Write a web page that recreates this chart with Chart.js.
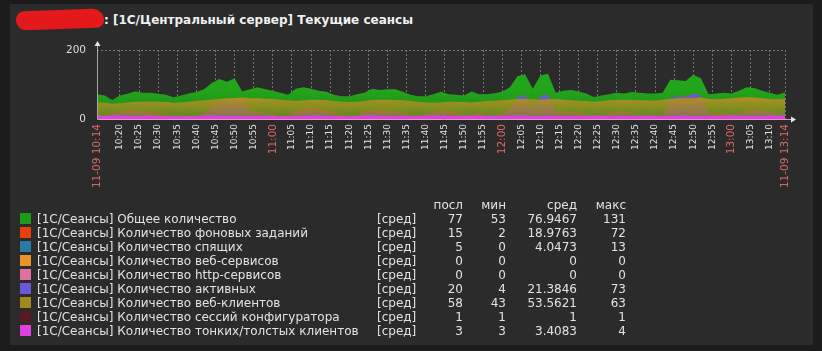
<!DOCTYPE html>
<html>
<head>
<meta charset="utf-8">
<script src="https://cdn.jsdelivr.net/npm/chart.js@4.4.0/dist/chart.umd.min.js"></script>
<style>
  body { margin: 0; width: 822px; height: 351px; overflow: hidden; background: #1c1c1c; font-family: "DejaVu Sans", sans-serif; }
  #panel { position: absolute; left: 10px; top: 4px; width: 803px; height: 341px; background: #2b2b2b; }
  #chart { position: absolute; left: 0; top: 0; }
  #blob { position: absolute; left: 16px; top: 10px; width: 88px; height: 19px; background: #e3191c; border-radius: 10px 14px 9px 12px; transform: rotate(-2deg); }
  #title { position: absolute; left: 104px; top: 13px; font-weight: bold; font-size: 12px; color: #f0f0f0; white-space: nowrap; }
  .lg { position: absolute; font-size: 12px; color: #e2e2e2; white-space: nowrap; line-height: 14px; }
  .sq { position: absolute; width: 11px; height: 11px; }
  .num { text-align: right; }
</style>
</head>
<body>
<div id="panel"></div>
<div id="blob"></div>
<div id="title">: [1С/Центральный сервер] Текущие сеансы</div>
<canvas id="chart" width="822" height="351"></canvas>
<div id="legend"></div>
<script>
// minutes since 10:14 (11-09)
const sampleMinutes = [0,2,4,6,8,10,12,14,16,18,20,22,24,26,28,30,32,34,36,38,40,42,44,46,48,50,52,54,56,58,60,62,64,66,68,70,72,74,76,78,80,82,84,86,88,90,92,94,96,98,100,102,104,106,108,110,112,114,116,118,120,122,124,126,128,130,132,134,136,138,140,142,144,146,148,150,152,154,156,158,160,162,164,166,168,170,172,174,176,178,180];

const totalSessions = [72,68,55,68,73,80,76,76,73,70,63,
  68,74,78,86,104,116,108,118,80,86,
  92,86,82,76,70,88,92,88,82,79,
  70,66,66,72,76,88,84,86,86,79,
  70,66,66,72,79,72,70,68,80,72,
  72,75,79,92,124,130,88,126,131,76,
  82,84,80,74,64,68,72,76,74,78,
  76,74,74,76,114,112,110,128,118,72,
  74,76,74,82,92,90,82,76,70,77];
const backgroundJobs = [14,12,16,22,26,26,24,22,16,12,10,
  10,8,10,14,40,52,58,60,62,24,
  22,16,12,10,10,26,30,32,30,28,
  20,12,10,12,24,26,26,24,22,20,
  12,10,14,22,26,24,18,14,12,22,
  12,14,16,30,56,60,30,58,64,22,
  22,20,20,16,12,10,18,22,22,18,
  14,12,4,12,56,62,66,72,60,16,
  18,20,14,16,24,28,26,20,16,15];
const sleepingSessions = [4,3,5,6,5,4,4,3,3,4,3,
  3,2,3,4,8,10,12,13,10,5,
  4,4,3,3,2,5,6,6,5,4,
  4,3,2,3,4,5,5,4,4,4,
  3,2,3,4,5,4,4,3,3,4,
  3,3,3,4,6,5,4,5,6,4,
  4,4,4,3,2,2,3,4,4,4,
  3,3,2,2,5,6,6,7,6,4,
  4,4,3,3,4,5,5,4,4,5];
const webServices = [0,0,0,0,0,0,0,0,0,0,0, 0,0,0,0,0,0,0,0,0,0, 0,0,0,0,0,0,0,0,0,0, 0,0,0,0,0,0,0,0,0,0,
  0,0,0,0,0,0,0,0,0,0, 0,0,0,0,0,0,0,0,0,0, 0,0,0,0,0,0,0,0,0,0, 0,0,0,0,0,0,0,0,0,0, 0,0,0,0,0,0,0,0,0,0];
const httpServices = [0,0,0,0,0,0,0,0,0,0,0, 0,0,0,0,0,0,0,0,0,0, 0,0,0,0,0,0,0,0,0,0, 0,0,0,0,0,0,0,0,0,0,
  0,0,0,0,0,0,0,0,0,0, 0,0,0,0,0,0,0,0,0,0, 0,0,0,0,0,0,0,0,0,0, 0,0,0,0,0,0,0,0,0,0, 0,0,0,0,0,0,0,0,0,0];
const activeSessions = [12,10,14,18,20,20,18,16,12,10,8,
  8,6,8,12,34,48,52,54,56,20,
  18,14,10,8,8,20,24,26,24,22,
  16,10,8,10,20,22,22,20,18,16,
  10,8,12,18,20,18,14,12,10,18,
  10,12,14,26,64,70,28,66,72,20,
  18,16,16,12,10,8,14,18,18,14,
  12,10,8,10,62,66,64,73,68,14,
  14,16,12,14,20,24,22,18,16,20];
const webClients = [48,47,44,46,48,50,50,51,50,49,47,
  48,50,52,54,56,58,60,61,62,60,
  60,59,58,56,54,52,54,56,56,55,
  52,50,49,50,52,55,56,56,55,54,
  52,50,48,47,48,50,50,49,48,50,
  52,53,54,56,58,58,57,56,57,58,
  56,54,53,52,50,52,54,55,56,55,
  54,54,53,56,58,60,60,60,62,58,
  57,58,60,62,63,62,60,58,57,58];
const configSessions = [1,1,1,1,1,1,1,1,1,1,1, 1,1,1,1,1,1,1,1,1,1, 1,1,1,1,1,1,1,1,1,1, 1,1,1,1,1,1,1,1,1,1,
  1,1,1,1,1,1,1,1,1,1, 1,1,1,1,1,1,1,1,1,1, 1,1,1,1,1,1,1,1,1,1, 1,1,1,1,1,1,1,1,1,1, 1,1,1,1,1,1,1,1,1,1];
const thinClients = [3,3,4,4,3,3,3,4,3,3,3, 3,3,3,4,4,4,3,3,3,3, 3,3,4,3,3,3,3,4,4,3, 3,3,3,3,4,4,3,3,3,3,
  3,3,4,4,3,3,3,3,4,3, 3,3,3,4,4,4,3,3,4,3, 3,3,3,3,4,4,3,3,3,3, 3,4,4,3,3,4,4,3,3,3, 3,3,4,4,3,3,3,4,3,3];

// x tick positions (minutes since 10:14) and their labels
const tickMinutes = [0,6,11,16,21,26,31,36,41,46,51,56,61,66,71,76,81,86,91,96,101,106,111,116,121,126,131,136,141,146,151,156,161,166,171,176,180];
const tickLabels = ['11-09 10:14','10:20','10:25','10:30','10:35','10:40','10:45','10:50','10:55','11:00','11:05','11:10','11:15','11:20','11:25','11:30','11:35','11:40','11:45','11:50','11:55','12:00','12:05','12:10','12:15','12:20','12:25','12:30','12:35','12:40','12:45','12:50','12:55','13:00','13:05','13:10','11-09 13:14'];
const redLabels = ['11-09 10:14','11:00','12:00','13:00','11-09 13:14'];
const yTicks = [0, 200];

// legend table
const seriesNames = ['[1С/Сеансы] Общее количество','[1С/Сеансы] Количество фоновых заданий','[1С/Сеансы] Количество спящих','[1С/Сеансы] Количество веб-сервисов','[1С/Сеансы] Количество http-сервисов','[1С/Сеансы] Количество активных','[1С/Сеансы] Количество веб-клиентов','[1С/Сеансы] Количество сессий конфигуратора','[1С/Сеансы] Количество тонких/толстых клиентов'];
const statLast = ['77','15','5','0','0','20','58','1','3'];
const statMin = ['53','2','0','0','0','4','43','1','3'];
const statAvg = ['76.9467','18.9763','4.0473','0','0','21.3846','53.5621','1','3.4083'];
const statMax = ['131','72','13','0','0','73','63','1','4'];
const statHeaders = ['посл','мин','сред','макс'];

const colors = ['#1a9c1a','#e8400f','#2a7aa8','#e8942a','#e070a0','#6a5ad8','#a08a20','#5a1a24','#e040e0'];
const seriesData = [totalSessions, backgroundJobs, sleepingSessions, webServices, httpServices, activeSessions, webClients, configSessions, thinClients];

function rgba(hex, a) {
  const n = parseInt(hex.slice(1), 16);
  return 'rgba(' + (n >> 16) + ',' + ((n >> 8) & 255) + ',' + (n & 255) + ',' + a + ')';
}

// gradient fill, strongest near topVal, fading to the baseline
function gradientFill(hex, topVal, aTop, aBottom) {
  return function(context) {
    const chart = context.chart;
    const area = chart.chartArea;
    if (!area) return rgba(hex, aTop);
    const y0 = chart.scales.y.getPixelForValue(topVal);
    const g = chart.ctx.createLinearGradient(0, y0, 0, area.bottom);
    g.addColorStop(0, rgba(hex, aTop));
    g.addColorStop(1, rgba(hex, aBottom));
    return g;
  };
}

const fills = [
  gradientFill('#22a51a', 80, 1, 0.7),
  gradientFill(colors[1], 65, 0.85, 0.35),
  gradientFill(colors[2], 12, 0.7, 0.3),
  gradientFill(colors[3], 10, 0.7, 0.3),
  gradientFill(colors[4], 10, 0.7, 0.3),
  gradientFill(colors[5], 70, 0.9, 0.4),
  gradientFill('#ab8e22', 60, 1, 0.35),
  gradientFill(colors[7], 5, 0.8, 0.5),
  gradientFill(colors[8], 3, 1, 1)
];

const datasets = seriesData.map((vals, i) => ({
  label: seriesNames[i],
  data: vals.map((v, k) => ({ x: sampleMinutes[k], y: v })),
  borderColor: i === 8 ? colors[8] : (i === 4 ? rgba(colors[4], 0.8) : 'rgba(0,0,0,0)'),
  borderWidth: i === 8 ? 4 : (i === 4 ? 1 : 0),
  backgroundColor: fills[i],
  fill: 'origin',
  pointRadius: 0,
  tension: 0,
  order: 9 - i
}));

const axisArrows = {
  id: 'axisArrows',
  afterDraw(chart) {
    const ctx = chart.ctx, a = chart.chartArea;
    ctx.save();
    ctx.strokeStyle = '#a8a8a8';
    ctx.lineWidth = 1;
    ctx.beginPath();
    ctx.moveTo(a.left + 0.5, a.top - 5);
    ctx.lineTo(a.left + 0.5, a.bottom + 0.5);
    ctx.stroke();
    ctx.strokeStyle = '#d8a0b8';
    ctx.beginPath();
    ctx.moveTo(a.left + 0.5, a.bottom + 0.5);
    ctx.lineTo(a.right + 6, a.bottom + 0.5);
    ctx.stroke();
    ctx.fillStyle = '#e8e8e8';
    ctx.beginPath();
    ctx.moveTo(a.left + 0.5, a.top - 9);
    ctx.lineTo(a.left - 2.5, a.top - 4);
    ctx.lineTo(a.left + 3.5, a.top - 4);
    ctx.fill();
    ctx.beginPath();
    ctx.moveTo(a.right + 11, a.bottom + 0.5);
    ctx.lineTo(a.right + 6, a.bottom - 2.5);
    ctx.lineTo(a.right + 6, a.bottom + 3.5);
    ctx.fill();
    ctx.restore();
  }
};

new Chart(document.getElementById('chart'), {
  type: 'line',
  data: { datasets: datasets },
  options: {
    responsive: false,
    animation: false,
    layout: { padding: { top: 50, right: 37, left: 0, bottom: 0 } },
    plugins: { legend: { display: false }, tooltip: { enabled: false } },
    scales: {
      x: {
        type: 'linear',
        min: 0,
        max: 180,
        afterFit: s => { s.height = 232; },
        afterBuildTicks: s => { s.ticks = tickMinutes.map(v => ({ value: v })); },
        border: { display: false, dash: [2, 2] },
        grid: { color: 'rgba(125,125,125,0.9)', drawTicks: false },
        ticks: {
          autoSkip: false,
          minRotation: 90,
          maxRotation: 90,
          padding: 5,
          callback: (v, idx) => tickLabels[idx],
          color: c => redLabels.includes(tickLabels[c.index]) ? '#e06868' : '#e4e4e4',
          font: c => ({ family: 'DejaVu Sans', size: redLabels.includes(tickLabels[c.index]) ? 10.5 : 9 })
        }
      },
      y: {
        min: 0,
        max: 200,
        afterFit: s => { s.width = 97; },
        afterBuildTicks: s => { s.ticks = yTicks.map(v => ({ value: v })); },
        border: { display: false, dash: [2, 2] },
        grid: { color: c => c.tick.value === 0 ? 'rgba(0,0,0,0)' : 'rgba(125,125,125,0.9)', drawTicks: false },
        ticks: { padding: 11, color: '#dedede', font: { family: 'DejaVu Sans', size: 10.5 } }
      }
    }
  },
  plugins: [axisArrows]
});
</script>
<script>
// legend table under the chart
const legend = document.getElementById('legend');
const rowTop = 212, rowStep = 14;
const numRight = [463, 506, 577, 626];
function addText(txt, left, top, right) {
  const d = document.createElement('div');
  d.className = 'lg' + (right ? ' num' : '');
  d.textContent = txt;
  if (right) { d.style.left = (left - 100) + 'px'; d.style.width = '100px'; }
  else d.style.left = left + 'px';
  d.style.top = top + 'px';
  legend.appendChild(d);
}
statHeaders.forEach((h, j) => addText(h, numRight[j], rowTop - rowStep, true));
seriesNames.forEach((name, i) => {
  const top = rowTop + i * rowStep;
  const sq = document.createElement('div');
  sq.className = 'sq';
  sq.style.left = '20px';
  sq.style.top = (top + 1) + 'px';
  sq.style.background = colors[i];
  legend.appendChild(sq);
  addText(name, 37, top);
  addText('[сред]', 377, top);
  addText(statLast[i], numRight[0], top, true);
  addText(statMin[i], numRight[1], top, true);
  addText(statAvg[i], numRight[2], top, true);
  addText(statMax[i], numRight[3], top, true);
});
</script>
</body>
</html>
